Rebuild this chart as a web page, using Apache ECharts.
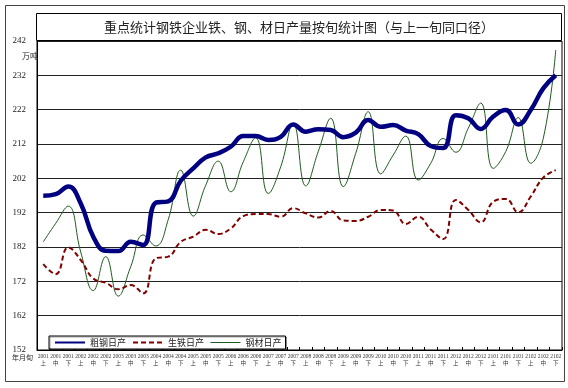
<!DOCTYPE html>
<html>
<head>
<meta charset="utf-8">
<script src="https://cdn.jsdelivr.net/npm/echarts@6/dist/echarts.min.js"></script>
<style>
html,body{margin:0;padding:0;background:#fff;}
#chart{width:568px;height:388px;}
</style>
</head>
<body>
<div id="chart"></div>
<script>
const categories = [
  '2001\n上','2001\n中','2001\n下','2002\n上','2002\n中','2002\n下',
  '2003\n上','2003\n中','2003\n下','2004\n上','2004\n中','2004\n下',
  '2005\n上','2005\n中','2005\n下','2006\n上','2006\n中','2006\n下',
  '2007\n上','2007\n中','2007\n下','2008\n上','2008\n中','2008\n下',
  '2009\n上','2009\n中','2009\n下','2010\n上','2010\n中','2010\n下',
  '2011\n上','2011\n中','2011\n下','2012\n上','2012\n中','2012\n下',
  '2101\n上','2101\n中','2101\n下','2102\n上','2102\n中','2102\n下'
];
const crudeSteel = [196.9,197.4,199.6,194.7,185,180.9,180.8,183.5,182.6,194.9,
  195.3,201.3,204.9,208.1,209.3,211.2,214.3,214.3,213.2,214.1,
  217.7,215.6,216.3,216.1,214,215.3,219,217,217.5,215.9,
  214.9,211.4,210.8,220.4,219.5,216.4,220,221.9,217.7,221.9,
  228.2,232];
const pigIron = [177,174.1,181.9,178.2,172.8,171.6,169.7,170.9,168.5,178.7,
  179.2,183.5,185,187,185.8,187.4,191,191.6,191.6,190.8,
  193.3,191.8,190.6,192.5,189.7,189.6,190.8,192.8,192.6,188.7,
  190.8,187.1,184.3,195.7,192.8,189.2,195.2,196,192.1,196.7,
  202.2,204.4];
const steelProducts = [183.5,188.9,193.9,180.5,169.3,179.2,167.7,176.3,185.5,182.3,
  190,204.4,191,200,207,198.1,206.8,213.8,197.6,205.4,
  218,199.8,209.8,219.5,199.6,209.3,221.4,203.3,208.8,214.3,
  201.5,206.4,213.6,209.6,216.6,223.9,204.9,209.8,219.7,206.4,
  213.6,239.4];
const seriesNames = ['粗钢日产','生铁日产','钢材日产'];
const yMin = 152, yMax = 242, yStep = 10;
const titleText = '重点统计钢铁企业铁、钢、材日产量按旬统计图（与上一旬同口径）';

const FONT = '"Liberation Serif", "Noto Sans CJK SC", serif';
const chart = echarts.init(document.getElementById('chart'), null, {renderer:'canvas'});
chart.setOption({
  backgroundColor: '#fff',
  animation: false,
  grid: {left: 37, right: 6, top: 41, bottom: 38, show: true, borderColor: '#000', borderWidth: 1, backgroundColor: 'transparent'},
  graphic: [
    {type:'rect', z:-10, shape:{x:5.5, y:5.5, width:559, height:376}, style:{fill:'#fff', stroke:'#444', lineWidth:1}},
    {type:'rect', z:100, shape:{x:36.5, y:13.5, width:525, height:27}, style:{fill:'#fff', stroke:'#000', lineWidth:1}},
    {type:'text', z:101, x:299, y:27, style:{text:titleText, fill:'#222', font:'13px "Noto Sans CJK SC", sans-serif', align:'center', verticalAlign:'middle'}},
    {type:'text', z:101, x:22, y:56, style:{text:'万吨', fill:'#222', font:'8px "Noto Sans CJK SC", sans-serif', align:'left', verticalAlign:'middle'}},
    {type:'text', z:101, x:12, y:357, style:{text:'年月旬', fill:'#222', font:'7px "Noto Sans CJK SC", sans-serif', align:'left', verticalAlign:'middle'}}
  ],
  legend: {
    data: [
      {name: seriesNames[0], lineStyle: {width: 2}},
      {name: seriesNames[1], lineStyle: {width: 2}},
      {name: seriesNames[2], lineStyle: {width: 1}}
    ],
    left: 49, top: 336,
    orient: 'horizontal',
    itemWidth: 30, itemHeight: 8, itemGap: 6,
    itemStyle: {opacity: 0},
    padding: [2, 4, 2, 5],
    borderColor: '#000', borderWidth: 1,
    backgroundColor: '#fff',
    shadowColor: 'rgba(0,0,0,0.35)', shadowOffsetX: 1, shadowOffsetY: 1, shadowBlur: 0,
    textStyle: {fontSize: 9, color: '#222', fontFamily: '"Noto Sans CJK SC", sans-serif'},
    z: 20
  },
  xAxis: {
    type: 'category',
    data: categories,
    boundaryGap: true,
    axisLine: {lineStyle: {color: '#000', width: 1}},
    axisTick: {show: true, inside: true, length: 3, interval: 0, lineStyle:{color:'#000'}},
    axisLabel: {interval: 0, fontSize: 5.5, lineHeight: 7, margin: 3, color: '#333', fontFamily: FONT}
  },
  yAxis: {
    type: 'value',
    min: yMin, max: yMax, interval: yStep,
    axisLine: {show: true, lineStyle: {color: '#000', width: 1}},
    axisTick: {show: false},
    axisLabel: {fontSize: 9, color: '#222', margin: 11, fontFamily: FONT},
    splitLine: {show: true, lineStyle: {color: '#222', width: 1}}
  },
  series: [
    {name: seriesNames[2], type: 'line', data: steelProducts, smooth: 0.45, symbol: 'none', z: 3,
     lineStyle: {color: '#1f5a1f', width: 1}, itemStyle: {color: '#1f5a1f'}},
    {name: seriesNames[1], type: 'line', data: pigIron, smooth: 0.45, symbol: 'none', z: 4,
     lineStyle: {color: '#800000', width: 2, type: [5, 3]}, itemStyle: {color: '#800000'}},
    {name: seriesNames[0], type: 'line', data: crudeSteel, smooth: 0.45, symbol: 'none', z: 5,
     lineStyle: {color: '#000080', width: 4.5}, itemStyle: {color: '#000080'}}
  ]
});
</script>
</body>
</html>
